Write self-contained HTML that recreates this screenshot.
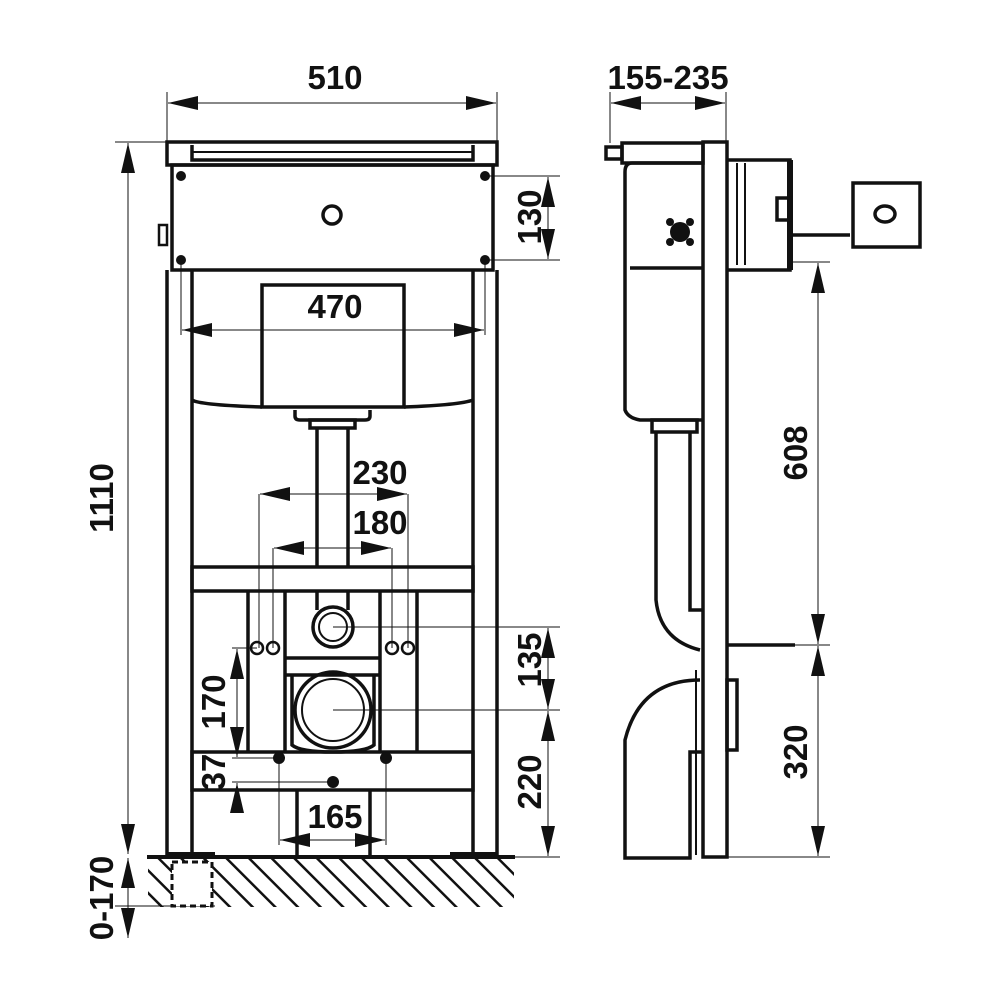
<!DOCTYPE html>
<html><head><meta charset="utf-8"><style>
html,body{margin:0;padding:0;background:#fff}
svg{display:block}
text{font-family:"Liberation Sans",sans-serif;font-size:33px;font-weight:bold;fill:#111;text-anchor:middle}
</style></head><body>
<svg width="1000" height="1000" viewBox="0 0 1000 1000" xmlns="http://www.w3.org/2000/svg">
<defs>
<marker id="b" viewBox="0 0 30 14" refX="30" refY="7" markerWidth="30" markerHeight="14" markerUnits="userSpaceOnUse" orient="auto-start-reverse"><path d="M0,0L30,7L0,14z" fill="#111"/></marker>
<pattern id="h" width="16" height="16" patternUnits="userSpaceOnUse" patternTransform="rotate(-45)"><line x1="0" y1="0" x2="0" y2="16" stroke="#111" stroke-width="5"/></pattern>
</defs>
<g fill="none" stroke="#111" stroke-width="1">
<line x1="167" y1="92" x2="167" y2="142"/><line x1="497" y1="92" x2="497" y2="142"/>
<line x1="168" y1="103" x2="496" y2="103" marker-start="url(#b)" marker-end="url(#b)"/>
<line x1="115" y1="142" x2="167" y2="142"/>
<line x1="128" y1="143" x2="128" y2="854" marker-start="url(#b)" marker-end="url(#b)"/>
<line x1="115" y1="906" x2="215" y2="906"/>
<line x1="128" y1="858" x2="128" y2="938" marker-start="url(#b)" marker-end="url(#b)"/>
<line x1="485" y1="176" x2="560" y2="176"/><line x1="485" y1="260" x2="560" y2="260"/>
<line x1="548" y1="177" x2="548" y2="259" marker-start="url(#b)" marker-end="url(#b)"/>
<line x1="181" y1="260" x2="181" y2="335"/><line x1="485" y1="260" x2="485" y2="335"/>
<line x1="182" y1="330" x2="484" y2="330" marker-start="url(#b)" marker-end="url(#b)"/>
<line x1="259" y1="494" x2="259" y2="648"/><line x1="408" y1="494" x2="408" y2="648"/>
<line x1="273" y1="548" x2="273" y2="648"/><line x1="392" y1="548" x2="392" y2="648"/>
<line x1="260" y1="494" x2="407" y2="494" marker-start="url(#b)" marker-end="url(#b)"/>
<line x1="274" y1="548" x2="391" y2="548" marker-start="url(#b)" marker-end="url(#b)"/>
<line x1="333" y1="627" x2="560" y2="627"/><line x1="333" y1="710" x2="560" y2="710"/>
<line x1="497" y1="857" x2="560" y2="857"/>
<line x1="548" y1="628" x2="548" y2="709" marker-start="url(#b)" marker-end="url(#b)"/>
<line x1="548" y1="711" x2="548" y2="856" marker-start="url(#b)" marker-end="url(#b)"/>
<line x1="232" y1="648" x2="257" y2="648"/><line x1="232" y1="758" x2="279" y2="758"/><line x1="232" y1="782" x2="333" y2="782"/>
<line x1="237" y1="649" x2="237" y2="757" marker-start="url(#b)" marker-end="url(#b)"/>
<line x1="237" y1="812" x2="237" y2="783" marker-end="url(#b)"/>
<line x1="279" y1="758" x2="279" y2="845"/><line x1="386" y1="758" x2="386" y2="845"/>
<line x1="280" y1="840" x2="385" y2="840" marker-start="url(#b)" marker-end="url(#b)"/>
<line x1="610" y1="92" x2="610" y2="143"/><line x1="726" y1="92" x2="726" y2="143"/>
<line x1="611" y1="103" x2="725" y2="103" marker-start="url(#b)" marker-end="url(#b)"/>
<line x1="790" y1="262" x2="830" y2="262"/><line x1="795" y1="645" x2="830" y2="645"/><line x1="727" y1="857" x2="830" y2="857"/>
<line x1="818" y1="263" x2="818" y2="644" marker-start="url(#b)" marker-end="url(#b)"/>
<line x1="818" y1="646" x2="818" y2="856" marker-start="url(#b)" marker-end="url(#b)"/>
</g>
<g fill="none" stroke="#111" stroke-width="3.5">
<rect x="167" y="142" width="330" height="23"/>
<path d="M192 145 V160 H473 V145"/>
<line x1="192" y1="152" x2="473" y2="152" stroke-width="2"/>
<rect x="172" y="165" width="321" height="105"/>
<circle cx="332" cy="215" r="9"/>
<rect x="159" y="225" width="8" height="20" stroke-width="2.5"/>
<path d="M167 270 V855 M192 270 V855 M473 270 V855 M497 270 V855"/>
<rect x="262" y="285" width="142" height="122"/>
<path d="M192 400 Q200 405 262 407 M404 407 Q460 405 473 400"/>
<path d="M295 410 V416 Q295 420 300 420 H365 Q370 420 370 416 V410"/>
<rect x="310" y="420" width="45" height="8"/>
<path d="M317 428 V567 M348 428 V567"/>
<rect x="192" y="567" width="281" height="24"/>
<path d="M248 591 V752 M285 591 V752 M380 591 V752 M417 591 V752"/>
<path d="M285 658 H380 M285 675 H380"/>
<path d="M317 591 V610 M348 591 V610"/>
<circle cx="333" cy="627" r="20"/><circle cx="333" cy="627" r="14" stroke-width="2"/>
<path d="M292 675 V745 Q300 752 333 752 Q366 752 374 745 V675"/>
<circle cx="333" cy="710" r="38"/><circle cx="333" cy="710" r="31" stroke-width="2"/>
<circle cx="257" cy="648" r="6" stroke-width="2.5"/><circle cx="273" cy="648" r="6" stroke-width="2.5"/>
<circle cx="392" cy="648" r="6" stroke-width="2.5"/><circle cx="408" cy="648" r="6" stroke-width="2.5"/>
<rect x="192" y="752" width="281" height="38"/>
<path d="M297 790 V857 M370 790 V857"/>
<path d="M167 855 H215 M450 855 H497" stroke-width="6"/>
</g>
<rect x="148" y="859" width="366" height="48" fill="url(#h)"/>
<line x1="147" y1="857" x2="515" y2="857" stroke="#111" stroke-width="4"/>
<rect x="172" y="862" width="40" height="44" fill="#fff" stroke="#111" stroke-width="3" stroke-dasharray="6 4"/>
<g fill="#111">
<circle cx="181" cy="176" r="5"/><circle cx="485" cy="176" r="5"/><circle cx="181" cy="260" r="5"/><circle cx="485" cy="260" r="5"/>
<circle cx="279" cy="758" r="6"/><circle cx="386" cy="758" r="6"/><circle cx="333" cy="782" r="6"/>
</g>
<g fill="none" stroke="#111" stroke-width="3.5">
<rect x="703" y="142" width="24" height="715"/>
<rect x="622" y="143" width="81" height="20"/>
<rect x="606" y="147" width="16" height="12"/>
<path d="M703 163 H632 Q625 163 625 172 V410 Q628 418 640 420 H703"/>
<line x1="630" y1="268" x2="703" y2="268"/>
<path d="M727 160 H790 V270 H727"/>
<line x1="790" y1="160" x2="790" y2="270" stroke-width="6"/>
<path d="M737 163 V265 M745 163 V265" stroke-width="2"/>
<rect x="777" y="198" width="13" height="22"/>
<line x1="790" y1="235" x2="850" y2="235"/>
<rect x="853" y="183" width="67" height="64"/>
<ellipse cx="885" cy="214" rx="10" ry="8"/>
<rect x="652" y="420" width="45" height="12"/>
<path d="M656 432 V600 Q660 640 700 650"/>
<path d="M690 432 V610 H703"/>
<line x1="727" y1="645" x2="795" y2="645"/>
<path d="M700 680 Q640 680 625 740 V858 H690 V752 H703"/>
<path d="M696 670 V855" stroke-width="2"/>
<rect x="727" y="680" width="10" height="70"/>
</g>
<g fill="#111"><circle cx="680" cy="232" r="10"/><circle cx="670" cy="222" r="4"/><circle cx="690" cy="222" r="4"/><circle cx="670" cy="242" r="4"/><circle cx="690" cy="242" r="4"/></g>
<text x="335" y="89">510</text>
<text x="335" y="318">470</text>
<text x="380" y="484">230</text>
<text x="380" y="534">180</text>
<text x="335" y="828">165</text>
<text x="668" y="89">155-235</text>
<text transform="translate(113,498) rotate(-90)">1110</text>
<text transform="translate(541,217) rotate(-90)">130</text>
<text transform="translate(541,660) rotate(-90)">135</text>
<text transform="translate(541,782) rotate(-90)">220</text>
<text transform="translate(225,702) rotate(-90)">170</text>
<text transform="translate(225,772) rotate(-90)">37</text>
<text transform="translate(113,898) rotate(-90)">0-170</text>
<text transform="translate(807,453) rotate(-90)">608</text>
<text transform="translate(807,752) rotate(-90)">320</text>
</svg>
</body></html>
